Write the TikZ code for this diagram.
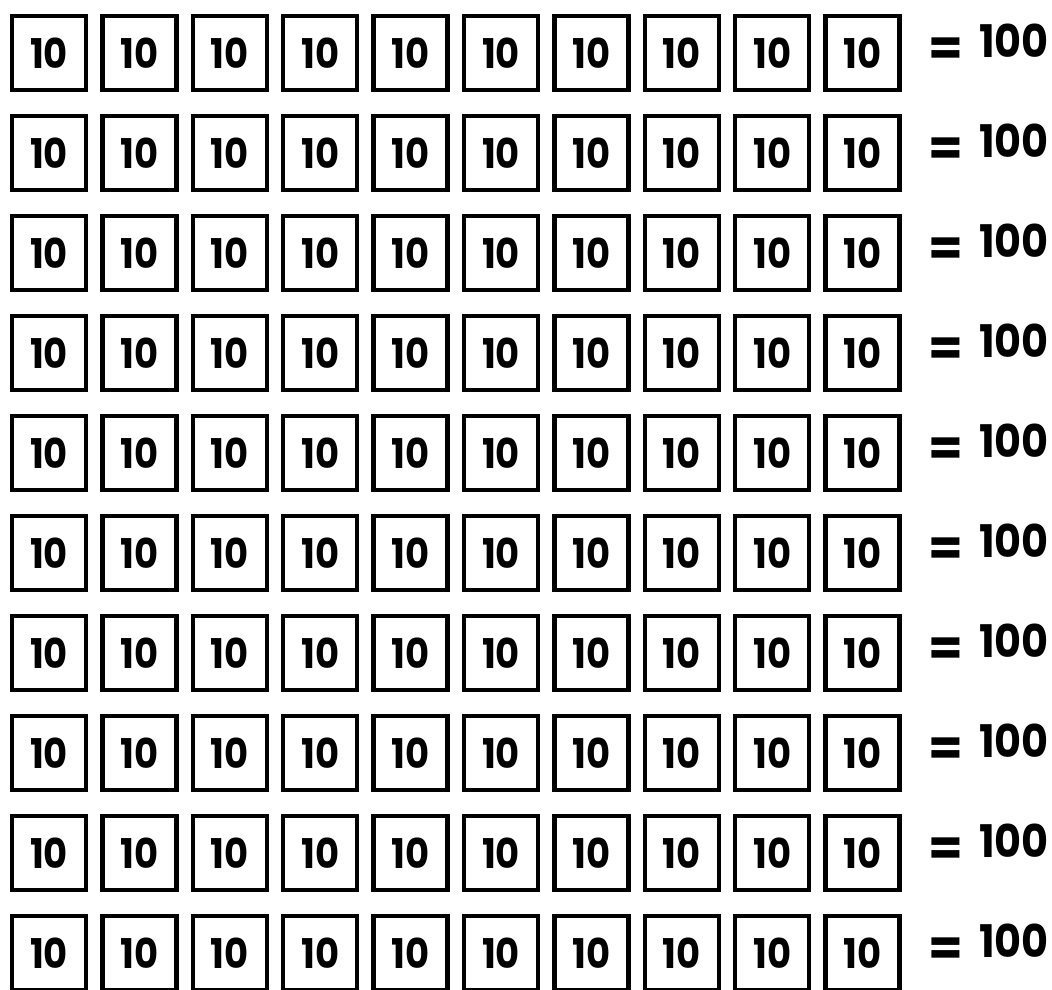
\documentclass[tikz,border=0pt]{standalone}
\usepackage{fontspec}
\setmainfont{Poppins}
\begin{document}
\begin{tikzpicture}[x=1pt,y=-1pt,
  tenbox/.style={draw,line width=4.5pt,minimum width=74pt,minimum height=74pt,inner sep=0pt,font=\fontsize{41}{41}\selectfont\bfseries},
  eqsign/.style={font=\fontsize{50}{50}\selectfont\bfseries,inner sep=0pt,anchor=base},
  total/.style={font=\fontsize{45}{45}\selectfont\bfseries,inner sep=0pt,anchor=base east}]
\fill[white] (0,0) rectangle (1052,989);
\useasboundingbox (0,0) rectangle (1052,989);
\foreach \r in {0,...,9}{
  \foreach \c in {0,...,9}{
    \node[tenbox] (b\r-\c) at ({49+90.4*\c},{53+100*\r}) {\scalebox{0.9}[1]{10}};
  }
  \node[eqsign] (eq\r) at (946,{65+100*\r}) {=};
  \node[total] (t\r) at (1049,{57+100*\r}) {\scalebox{0.92}[1]{100}};
}
\end{tikzpicture}
\end{document}
